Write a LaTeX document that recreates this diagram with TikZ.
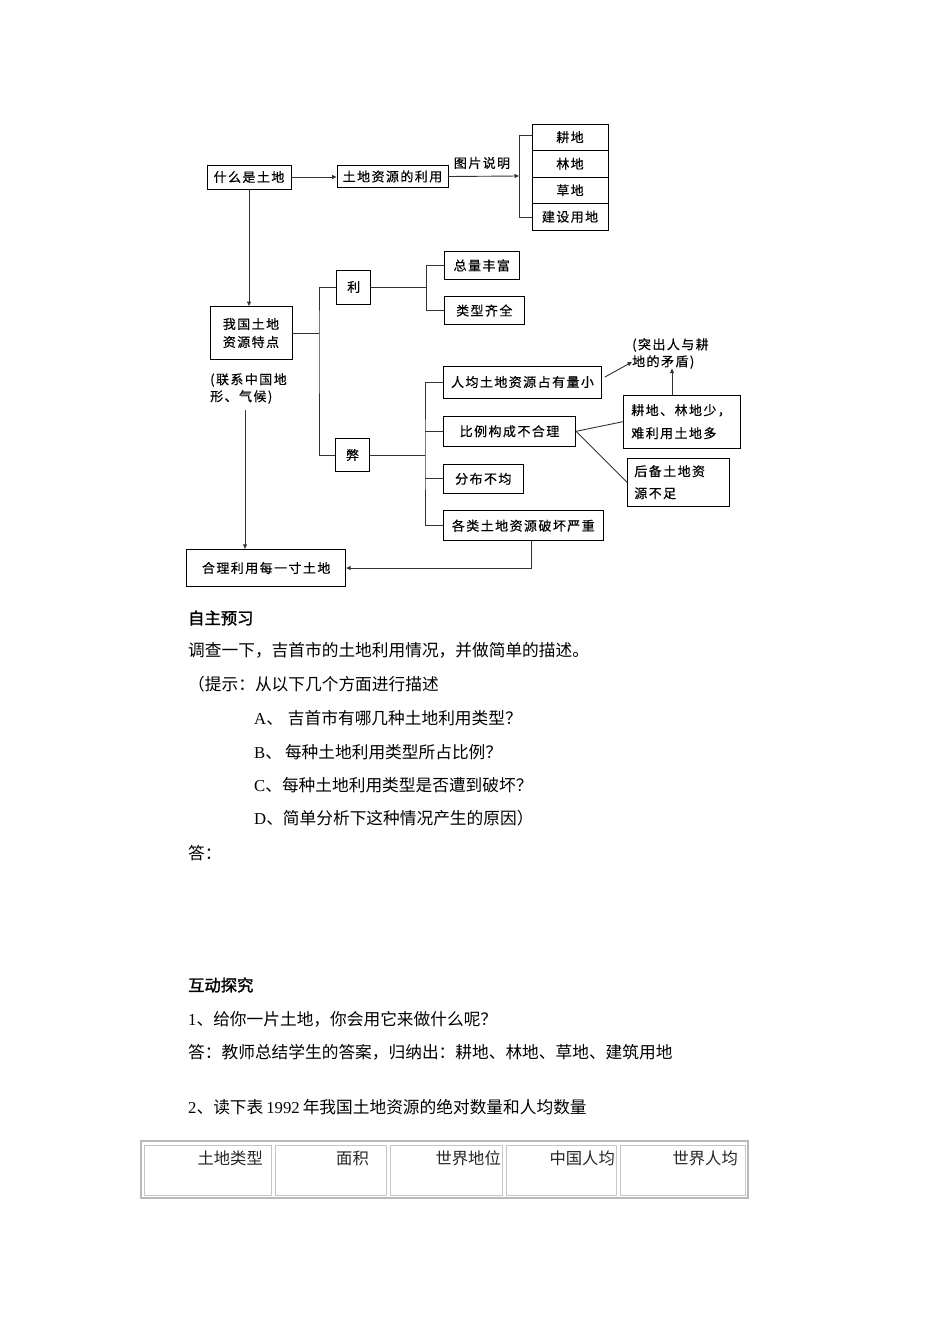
\documentclass[tikz,border=0pt]{standalone}
\usepackage{fontspec}
\setmainfont{Noto Sans CJK SC}
\newfontfamily\lat{Liberation Serif}
\newfontfamily\dgf[LetterSpace=11,FakeBold=0.4]{Noto Sans CJK SC}
\newfontfamily\bcjk[FakeBold=1.5]{Noto Sans CJK SC}
\usetikzlibrary{arrows.meta,calc}
\begin{document}
\begin{tikzpicture}[x=1pt,y=-1pt,
  box/.style={draw=black, line width=0.9pt, inner sep=0pt, align=center, font=\dgf\fontsize{13}{14}\selectfont},
  lab/.style={inner sep=0pt, align=left, font=\dgf\fontsize{13}{17}\selectfont},
  conn/.style={draw=black!80, line width=0.9pt},
  arr/.style={conn, -{Triangle[length=4.5pt,width=4pt]}},
  body/.style={anchor=west, inner sep=0pt, font=\fontsize{16.7}{20}\selectfont},
  head/.style={anchor=west, inner sep=0pt, font=\bcjk\fontsize{16.3}{20}\selectfont},
  cellbox/.style={draw=gray!45, line width=1pt},
  celltext/.style={anchor=east, inner sep=0pt, text=black!85, font=\fontsize{16.3}{20}\selectfont}]
\fill[white] (0,0) rectangle (950,1344);
\useasboundingbox (0,0) rectangle (950,1344);

% ---- top row
\node[box, minimum width=84, minimum height=24] (what) at (249,177) {什么是土地};
\node[box, minimum width=111, minimum height=22] (use) at (392.5,176.5) {土地资源的利用};
\node[box, minimum width=76, minimum height=26.5] (s1) at (570,137.25) {耕地};
\node[box, minimum width=76, minimum height=26.5] (s2) at (570,163.75) {林地};
\node[box, minimum width=76, minimum height=26.5] (s3) at (570,190.25) {草地};
\node[box, minimum width=76, minimum height=26.5] (s4) at (570,216.75) {建设用地};
\node[lab] (pic) at (482,163) {图片说明};
\coordinate (bt) at (519,135);
\coordinate (bm) at (519,176);
\coordinate (bb) at (519,217);
\draw[arr] (what.east) -- (what.east -| use.west);
\draw[arr] (use.east) -- (bm);
\draw[conn] (bt -| s1.west) -- (bt) -- (bb) -- (bb -| s4.west);

% ---- features
\node[box, minimum width=82, minimum height=53, font=\dgf\fontsize{13}{18}\selectfont] (feat) at (251,333) {我国土地\\资源特点};
\draw[arr] (what.south) -- (what.south |- feat.north);
\node[box, minimum width=34, minimum height=34] (li) at (353.7,287) {利};
\node[box, minimum width=34, minimum height=33] (bi) at (352.5,455) {弊};
\coordinate (fj) at (319,333);
\draw[conn] (feat.east) -- (fj);
\draw[conn] (li.west) -| (fj) |- (bi.west);

\node[box, minimum width=75, minimum height=27.6] (z1) at (481.8,265.5) {总量丰富};
\node[box, minimum width=80, minimum height=27.6] (z2) at (484.3,310.5) {类型齐全};
\coordinate (lj) at (426.7,287);
\draw[conn] (li.east) -- (lj);
\draw[conn] (z1.west) -| (lj) |- (z2.west);

\node[box, minimum width=158, minimum height=32] (g1) at (522.5,382) {人均土地资源占有量小};
\node[box, minimum width=132.4, minimum height=30.7] (g2) at (509.5,431.3) {比例构成不合理};
\node[box, minimum width=80, minimum height=29] (g3) at (483.3,478.8) {分布不均};
\node[box, minimum width=160, minimum height=30] (g4) at (523.3,525.7) {各类土地资源破坏严重};
\coordinate (bj) at (425,455);
\draw[conn] (bi.east) -- (bj);
\draw[conn] (g1.west) -| (bj) |- (g4.west);
\draw[conn] (g2.west) -- (g2.west -| bj);
\draw[conn] (g3.west) -- (g3.west -| bj);

\node[box, minimum width=117.4, minimum height=53.3, text width=101.4, inner xsep=8pt, align=left, font=\dgf\fontsize{13}{23}\selectfont] (c1) at (682,421.7) {耕地、林地少，\\难利用土地多};
\node[box, minimum width=102, minimum height=47.7, text width=88, inner xsep=7pt, align=left, font=\dgf\fontsize{13}{22}\selectfont] (c2) at (678.3,482.2) {后备土地资\\源不足};
\node[lab, anchor=west] (n2) at (632,353.5) {(突出人与耕\\地的矛盾)};
\draw[arr] ($(g1.east)+(3,-5)$) -- (n2.west |- 0,362);
\draw[arr] ([xshift=-10pt]c1.north) -- ++(0,-26);
\draw[conn] (g2.east) -- (c1.west);
\draw[conn] (g2.east) -- (c2.west);

\node[lab, anchor=west] (n1) at (210,388.5) {(联系中国地\\形、气候)};
\node[box, minimum width=159, minimum height=37.4] (heli) at (266.2,568) {合理利用每一寸土地};
\coordinate (n1b) at (245,410);
\draw[arr] (n1b) -- (n1b |- heli.north);
\draw[arr] ([xshift=8.4pt]g4.south) |- (heli.east);

% ---- text
\node[head] (h1) at (188,618) {自主预习};
\node[body] (t1) at (188,650) {调查一下，吉首市的土地利用情况，并做简单的描述。};
\node[body] (t2) at (188,684) {（提示：从以下几个方面进行描述};
\node[body] (t3) at (254,718) {{\lat A}、\hspace{5pt}吉首市有哪几种土地利用类型？};
\node[body] (t4) at (254,752) {{\lat B}、\hspace{3pt}每种土地利用类型所占比例？};
\node[body] (t5) at (254,785) {{\lat C}、每种土地利用类型是否遭到破坏？};
\node[body] (t6) at (254,818) {{\lat D}、简单分析下这种情况产生的原因）};
\node[body] (t7) at (188,853) {答：};
\node[head] (h2) at (188,985) {互动探究};
\node[body] (t8) at (188,1019) {{\lat 1}、给你一片土地，你会用它来做什么呢？};
\node[body] (t9) at (188,1052) {答：教师总结学生的答案，归纳出：耕地、林地、草地、建筑用地};
\node[body] (t10) at (188,1107) {{\lat 2}、读下表\hspace{3pt}{\lat 1992}\hspace{3pt}年我国土地资源的绝对数量和人均数量};

% ---- table
\draw[draw=gray!55, line width=1.3pt] (141,1141) rectangle (748,1198);
\draw[cellbox] (144,1145) rectangle (271,1195);
\draw[cellbox] (275,1145) rectangle (386,1195);
\draw[cellbox] (390,1145) rectangle (502,1195);
\draw[cellbox] (506,1145) rectangle (616,1195);
\draw[cellbox] (620,1145) rectangle (745,1195);
\node[celltext] (k1) at (263,1158) {土地类型};
\node[celltext] (k2) at (369,1158) {面积};
\node[celltext] (k3) at (501,1158) {世界地位};
\node[celltext] (k4) at (615,1158) {中国人均};
\node[celltext] (k5) at (738,1158) {世界人均};
\end{tikzpicture}
\end{document}
